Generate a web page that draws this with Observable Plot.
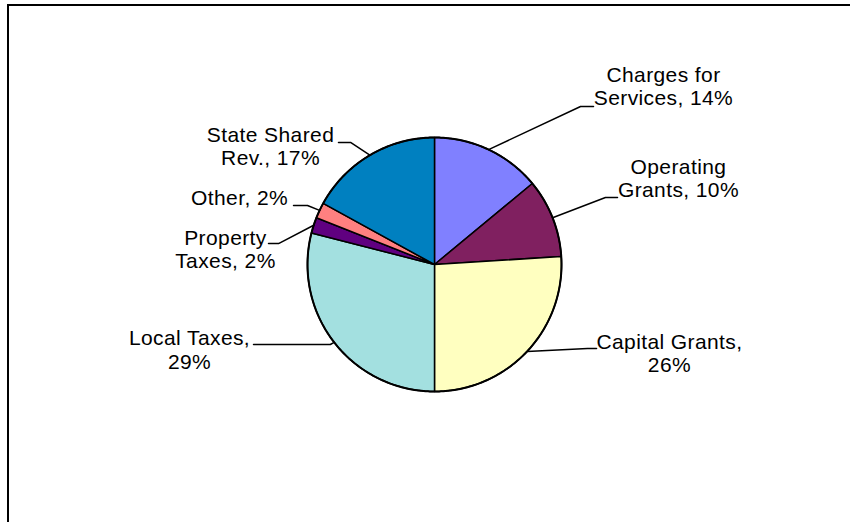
<!DOCTYPE html>
<html><head><meta charset="utf-8">
<script src="https://cdn.jsdelivr.net/npm/d3@7"></script>
<script src="https://cdn.jsdelivr.net/npm/@observablehq/plot@0.6"></script>
<style>
body{margin:0;background:#fff;}
#wrap{position:relative;width:850px;height:522px;overflow:hidden;}
#border{position:absolute;left:7px;top:4px;width:900px;height:600px;border-top:2px solid #000;border-left:2px solid #000;}
#chart{position:absolute;left:0;top:0;}
#chart svg text{letter-spacing:0.4px;}
</style></head><body>
<div id="wrap"><div id="border"></div><div id="chart"></div></div>
<script>
// ---- data ----
const categories = ["Charges for Services", "Operating Grants", "Capital Grants", "Local Taxes", "Property Taxes", "Other", "State Shared Rev."];
const shares = [14, 10, 26, 29, 2, 2, 17];
const labelTexts = ["Charges for\nServices, 14%", "Operating\nGrants, 10%", "Capital Grants,\n26%", "Local Taxes,\n29%", "Property\nTaxes, 2%", "Other, 2%", "State Shared\nRev., 17%"];
const sliceColors = ["#8080FF", "#802060", "#FFFFC0", "#A3E0E0", "#600080", "#FF8080", "#0080C0"];

// ---- layout (pie radius = 1 unit) ----
const labelAnchor = [[1.803, 1.252], [1.921, 0.528], [1.850, -0.850], [-1.929, -0.819], [-1.646, -0.031], [-1.535, 0.465], [-1.291, 0.780]];
const leaderElbow = [[1.150, 1.244], [1.346, 0.528], [1.205, -0.661], [-0.820, -0.630], [-1.228, 0.165], [-1.000, 0.465], [-0.661, 0.961]];
const leaderEnd = [[1.252, 1.244], [1.441, 0.528], [1.276, -0.661], [-1.425, -0.630], [-1.307, 0.165], [-1.110, 0.465], [-0.756, 0.961]];

const W = 850, H = 522, R = 127, CX = 434, CY = 264;

const arcs = d3.pie().sort(null).value(d => d)(shares);
const sliceRows = [];
arcs.forEach((a, i) => {
  const n = Math.max(4, Math.ceil((a.endAngle - a.startAngle) / 0.01));
  sliceRows.push({slice: i, x: 0, y: 0, color: sliceColors[i]});
  for (let k = 0; k <= n; ++k) {
    const t = a.startAngle + (a.endAngle - a.startAngle) * k / n;
    sliceRows.push({slice: i, x: Math.sin(t), y: Math.cos(t), color: sliceColors[i]});
  }
  sliceRows.push({slice: i, x: 0, y: 0, color: sliceColors[i]});
});
const rimRows = d3.range(0, 361).map(k => {
  const t = k * Math.PI / 180;
  return {x: Math.sin(t), y: Math.cos(t)};
});
const leaderRows = [];
arcs.forEach((a, i) => {
  const m = (a.startAngle + a.endAngle) / 2;
  leaderRows.push({slice: i, x: Math.sin(m), y: Math.cos(m)});
  leaderRows.push({slice: i, x: leaderElbow[i][0], y: leaderElbow[i][1]});
  leaderRows.push({slice: i, x: leaderEnd[i][0], y: leaderEnd[i][1]});
});
const labelRows = categories.map((c, i) => ({category: c, text: labelTexts[i], x: labelAnchor[i][0], y: labelAnchor[i][1]}));

const chart = Plot.plot({
  width: W, height: H,
  marginTop: 0, marginRight: 0, marginBottom: 0, marginLeft: 0,
  x: {domain: [-CX / R, (W - CX) / R], axis: null},
  y: {domain: [-(H - CY) / R, CY / R], axis: null},
  color: {type: "identity"},
  style: {background: "transparent", overflow: "visible"},
  marks: [
    Plot.line(sliceRows, {x: "x", y: "y", z: "slice", fill: "color", stroke: "#000", strokeWidth: 1.5, strokeLinejoin: "round", curve: "linear"}),
    Plot.line(rimRows, {x: "x", y: "y", stroke: "#000", strokeWidth: 2, curve: "linear"}),
    Plot.line(leaderRows, {x: "x", y: "y", z: "slice", stroke: "#000", strokeWidth: 1.5, curve: "linear"}),
    Plot.text(labelRows, {x: "x", y: "y", text: "text", textAnchor: "middle", lineAnchor: "bottom", lineHeight: 1.12, fontSize: 21, fontFamily: "'Liberation Sans', Arial, sans-serif", fill: "#000"})
  ]
});
document.getElementById("chart").appendChild(chart);
</script>
</body></html>
